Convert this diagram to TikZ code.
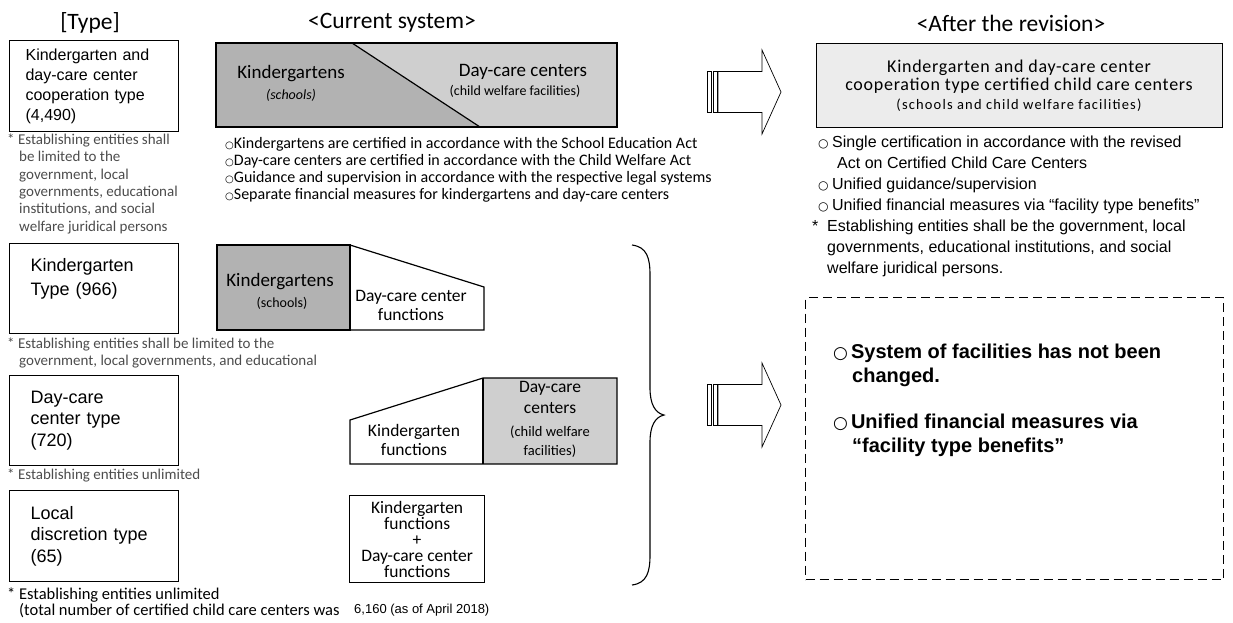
\documentclass[tikz,border=0pt]{standalone}
\usepackage{fontspec}
\setmainfont{Liberation Sans}
\newfontfamily\myr{Carlito}
\newfontfamily\myrwide{Carlito}[LetterSpace=4]
\newfontfamily\myrwider{Carlito}[LetterSpace=8]
\newfontfamily\symf{DejaVu Sans}
\usetikzlibrary{positioning}

\newcommand{\fsz}[2]{\fontsize{#1}{#2}\selectfont}
\newcommand{\wc}[1]{{\symf\fsz{#1}{#1}\char"25CB}}
\newcommand{\ind}{\hspace*{12pt}}

\definecolor{darkfill}{HTML}{B2B2B2}
\definecolor{midfill}{HTML}{CFCFCF}
\definecolor{lightfill}{HTML}{ECECEC}

\tikzset{
  typebox/.style={draw, line width=1.2pt, anchor=north west, minimum width=169pt,
    inner xsep=21pt, text width=127pt, align=left, font=\fsz{18}{21.5}},
  note/.style={anchor=north west, inner sep=0pt, align=left, text=black!70,
    font=\myr\fsz{15}{17.4}},
  head/.style={inner sep=0pt, font=\myr\fsz{23.5}{26}},
  bigtxt/.style={inner sep=0pt, align=center, font=\myr\fsz{19}{21}},
  midtxt/.style={inner sep=0pt, align=center, font=\myr\fsz{17.5}{19}},
  smalltxt/.style={inner sep=0pt, align=center, font=\myr\fsz{14}{16.5}},
  shapeline/.style={draw, line width=1.2pt},
  bullet/.style={anchor=west, inner sep=0pt, text height=10pt, text depth=3pt,
    font=\myr\fsz{16}{17}},
  rbullet/.style={anchor=west, inner sep=0pt, text height=11pt, text depth=3pt,
    font=\fsz{16}{21}},
  boldtxt/.style={anchor=west, inner sep=0pt, text height=14pt, text depth=4pt,
    font=\bfseries\fsz{20}{24}},
  hollow/.style={draw, line width=0.7pt, fill=white},
}

\begin{document}
\begin{tikzpicture}[x=1pt, y=-1pt]
\useasboundingbox (0,0) rectangle (1233,622);

% column heads
\node[head] (hType) at (90,23) {[Type]};
\node[head] (hCur) at (392,23) {<Current system>};
\node[head] (hAft) at (1011,23) {<After the revision>};

% types on the left
\node[typebox, font=\fsz{16}{20}, inner xsep=16pt, text width=137pt, minimum height=91pt]
  (tCoop) at (9,40) {Kindergarten and\\day-care center\\cooperation type\\(4,490)};
\node[note] (nCoop) at (7,133.5) {* Establishing entities shall\\\ind be limited to the\\\ind government, local\\\ind governments, educational\\\ind institutions, and social\\\ind welfare juridical persons};

\node[typebox, minimum height=90pt, font=\fsz{18}{24}] (tKind) at (9,243) {Kindergarten\\Type (966)\\\mbox{}};
\node[note] (nKind) at (7,337.5) {* Establishing entities shall be limited to the\\\ind government, local governments, and educational};

\node[typebox, minimum height=90pt] (tDay) at (9,375) {Day-care\\center type\\(720)};
\node[note] (nDay) at (7,468.5) {* Establishing entities unlimited};

\node[typebox, minimum height=91pt] (tLocal) at (9,490) {Local\\discretion type\\(65)};
\node[note, text=black, font=\myr\fsz{16.5}{16}] (nLocal) at (7,588) {* Establishing entities unlimited\\\ind (total number of certified child care centers was};
\node[anchor=west, inner sep=0pt, font=\fsz{13}{15}] (nTotal) at (354,610) {6,160 (as of April 2018)};

% current system: cooperation type
\fill[darkfill] (216,43) -- (352,43) -- (480,127) -- (216,127) -- cycle;
\fill[midfill] (352,43) -- (617,43) -- (617,127) -- (480,127) -- cycle;
\draw[shapeline] (216,43) rectangle (617,127);
\draw[shapeline] (352,43) -- (480,127);
\node[bigtxt] (kgA) at (291,74) {Kindergartens};
\node[smalltxt, font=\myr\itshape\fsz{14}{16}] (kgAs) at (291,95) {(schools)};
\node[bigtxt] (dcA) at (523,72) {Day-care centers};
\node[smalltxt] (dcAs) at (515,91) {(child welfare facilities)};

\node[bullet] (cb1) at (225,145) {\wc{10}Kindergartens are certified in accordance with the School Education Act};
\node[bullet] (cb2) at (225,162) {\wc{10}Day-care centers are certified in accordance with the Child Welfare Act};
\node[bullet] (cb3) at (225,179) {\wc{10}Guidance and supervision in accordance with the respective legal systems};
\node[bullet] (cb4) at (225,196) {\wc{10}Separate financial measures for kindergartens and day-care centers};

% kindergarten type
\fill[darkfill] (217,245) rectangle (350,330);
\draw[shapeline] (217,245) rectangle (350,330);
\draw[shapeline] (350,245) -- (484,287) -- (484,330) -- (350,330);
\node[bigtxt] (kgB) at (280,282) {Kindergartens};
\node[smalltxt] (kgBs) at (282,303) {(schools)};
\node[midtxt] (dcB) at (411,305) {Day-care center\\functions};

% day-care center type
\fill[midfill] (483,378) rectangle (617,464);
\draw[shapeline] (350,420) -- (483,378) -- (617,378) -- (617,464) -- (350,464) -- cycle;
\draw[shapeline] (483,378) -- (483,464);
\node[midtxt] (kgC) at (414,440) {Kindergarten\\functions};
\node[midtxt, font=\myr\fsz{17.5}{21}] (dcC) at (550,397) {Day-care\\centers};
\node[smalltxt, font=\myr\fsz{14.5}{19}] (dcCs) at (550,442) {(child welfare\\facilities)};

% local discretion type
\node[draw, line width=1.2pt, anchor=north west, minimum width=135pt, minimum height=87pt,
  inner sep=0pt, align=center, font=\myr\fsz{17.5}{16}] (fnD) at (349,495)
  {Kindergarten\\functions\\+\\Day-care center\\functions};

% brace
\draw[line width=1.1pt] (632,245) .. controls (647,247) and (650,258) .. (650,275)
  -- (650,388) .. controls (650,404) and (655,413) .. (664,415)
  .. controls (655,417) and (650,426) .. (650,442)
  -- (650,555) .. controls (650,572) and (647,583) .. (632,585);

% arrows
\foreach \yc in {92,405} {
  \draw[hollow] (707,{\yc-20.5}) rectangle (711,{\yc+20.5});
  \draw[hollow] (713,{\yc-20.5}) rectangle (717,{\yc+20.5});
  \draw[hollow] (718,{\yc-20.5}) -- (762,{\yc-20.5}) -- (762,{\yc-42}) -- (781,\yc)
    -- (762,{\yc+42}) -- (762,{\yc+20.5}) -- (718,{\yc+20.5}) -- cycle;
}

% after the revision
\node[draw, line width=1.2pt, fill=lightfill, anchor=north west, minimum width=406pt,
  minimum height=84pt] (after) at (816,43) {};
\node[inner sep=0pt, font=\myrwide\fsz{18}{17}] (aft1) at (1019,68) {Kindergarten and day-care center};
\node[inner sep=0pt, font=\myrwide\fsz{18}{17}] (aft2) at (1019,86) {cooperation type certified child care centers};
\node[inner sep=0pt, font=\myrwider\fsz{14.5}{15}] (aft3) at (1019,105) {(schools and child welfare facilities)};

\node[rbullet] (ab1) at (818,143) {\wc{12}\hspace{3.5pt}Single certification in accordance with the revised};
\node[rbullet] (ab1b) at (837,164) {Act on Certified Child Care Centers};
\node[rbullet] (ab2) at (818,185) {\wc{12}\hspace{3.5pt}Unified guidance/supervision};
\node[rbullet] (ab3) at (818,206) {\wc{12}\hspace{3.5pt}Unified financial measures via “facility type benefits”};
\node[rbullet] (an1) at (812,227) {\makebox[15pt][l]{*}Establishing entities shall be the government, local};
\node[rbullet] (an2) at (827,248) {governments, educational institutions, and social};
\node[rbullet] (an3) at (827,269) {welfare juridical persons.};

\node[draw, dashed, dash pattern=on 9pt off 5pt, line width=1.3pt, anchor=north west,
  minimum width=418pt, minimum height=282pt] (same) at (805,297) {};
\node[boldtxt] (sb1) at (833,353) {\wc{17}\hspace{3pt}System of facilities has not been};
\node[boldtxt] (sb1b) at (852,377) {changed.};
\node[boldtxt] (sb2) at (833,423) {\wc{17}\hspace{3pt}Unified financial measures via};
\node[boldtxt] (sb2b) at (852,447) {“facility type benefits”};

\end{tikzpicture}
\end{document}
